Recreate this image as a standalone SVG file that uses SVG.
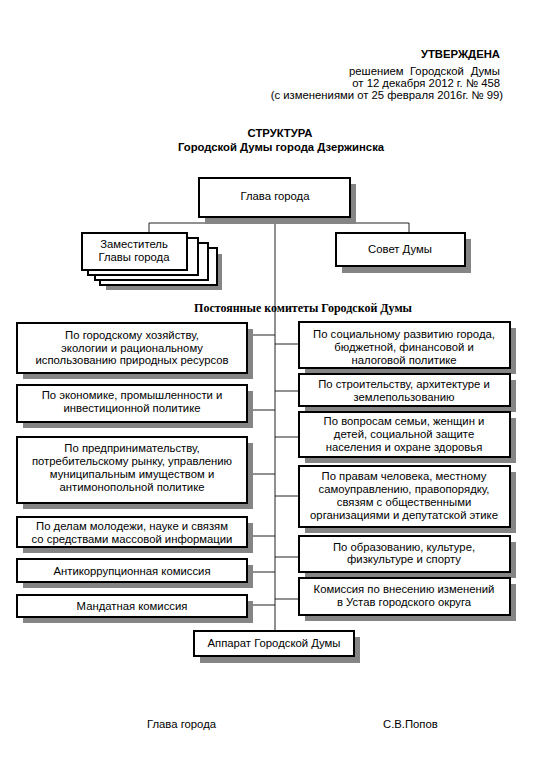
<svg xmlns="http://www.w3.org/2000/svg" width="543" height="768" viewBox="0 0 543 768">
<style>
text{font-family:"Liberation Sans",Arial,sans-serif;font-size:11.3px;fill:#000}
.c{text-anchor:middle}
.r{text-anchor:end}
.b{font-weight:bold}
.box{fill:#fff;stroke:#000;stroke-width:2}
.sh{fill:#858585}
.ln{stroke:#222;stroke-width:1;fill:none}
.ser{font-family:"Liberation Serif","Times New Roman",serif;font-size:12px;font-weight:bold}
</style>
<rect width="543" height="768" fill="#fff"/>
<g id="header">
<text x="500" y="58" class="r b">УТВЕРЖДЕНА</text>
<text x="349" y="75">решением</text>
<text x="410" y="75">Городской</text>
<text x="500" y="75" class="r">Думы</text>
<text x="500" y="87" class="r">от 12 декабря 2012 г. № 458</text>
<text x="503" y="99" class="r">(с изменениями от 25 февраля 2016г. № 99)</text>
</g>
<g id="title">
<text x="280" y="137" class="c b">СТРУКТУРА</text>
<text x="281" y="151" class="c b">Городской Думы города Дзержинска</text>
</g>
<g id="connectors">
<line class="ln" x1="275" y1="217" x2="275" y2="631"/>
<polyline class="ln" points="149,233 149,223 409,223 409,233"/>
<line class="ln" x1="247" y1="335" x2="275" y2="335"/>
<line class="ln" x1="247" y1="410" x2="275" y2="410"/>
<line class="ln" x1="247" y1="474" x2="275" y2="474"/>
<line class="ln" x1="247" y1="536" x2="275" y2="536"/>
<line class="ln" x1="247" y1="572" x2="275" y2="572"/>
<line class="ln" x1="247" y1="605" x2="275" y2="605"/>
<line class="ln" x1="275" y1="344" x2="299" y2="344"/>
<line class="ln" x1="275" y1="391" x2="299" y2="391"/>
<line class="ln" x1="275" y1="437" x2="299" y2="437"/>
<line class="ln" x1="275" y1="496" x2="299" y2="496"/>
<line class="ln" x1="275" y1="557" x2="299" y2="557"/>
<line class="ln" x1="275" y1="599" x2="299" y2="599"/>
</g>
<g id="glava">
<rect class="sh" x="205" y="184" width="151" height="40"/>
<rect class="box" x="199" y="178" width="151" height="39"/>
<text x="275" y="200" class="c">Глава города</text>
</g>
<g id="zam">
<rect class="sh" x="106" y="254" width="116" height="36"/>
<rect class="box" x="100" y="248" width="117" height="37"/>
<rect class="box" x="95" y="243" width="113" height="37"/>
<rect class="box" x="88" y="238" width="110" height="37"/>
<rect class="box" x="82" y="233" width="105" height="37"/>
<text x="134" y="248" class="c">Заместитель</text>
<text x="134" y="261" class="c">Главы города</text>
</g>
<g id="sovet">
<rect class="sh" x="342" y="239" width="129" height="34"/>
<rect class="box" x="336" y="233" width="129" height="33"/>
<text x="400" y="253" class="c">Совет Думы</text>
</g>
<text x="303" y="312" class="c ser">Постоянные комитеты Городской  Думы</text>
<g id="l1">
<rect class="sh" x="23" y="329" width="230" height="50"/>
<rect class="box" x="17" y="323" width="230" height="50"/>
<text x="132" y="339" class="c">По городскому хозяйству,</text>
<text x="132" y="351.5" class="c">экологии и рациональному</text>
<text x="132" y="364" class="c">использованию природных ресурсов</text>
</g>
<g id="l2">
<rect class="sh" x="23" y="391" width="230" height="37"/>
<rect class="box" x="17" y="385" width="230" height="37"/>
<text x="132" y="399" class="c">По экономике, промышленности и</text>
<text x="132" y="412" class="c">инвестиционной политике</text>
</g>
<g id="l3">
<rect class="sh" x="23" y="443" width="230" height="66"/>
<rect class="box" x="17" y="437" width="230" height="66"/>
<text x="132" y="452" class="c">По предпринимательству,</text>
<text x="132" y="465" class="c">потребительскому рынку, управлению</text>
<text x="132" y="478" class="c">муниципальным имуществом и</text>
<text x="132" y="491" class="c">антимонопольной политике</text>
</g>
<g id="l4">
<rect class="sh" x="23" y="523" width="230" height="30"/>
<rect class="box" x="17" y="517" width="230" height="30"/>
<text x="132" y="530" class="c">По делам молодежи, науке и связям</text>
<text x="132" y="543" class="c">со средствами массовой информации</text>
</g>
<g id="l5">
<rect class="sh" x="23" y="565" width="230" height="23"/>
<rect class="box" x="17" y="559" width="230" height="23"/>
<text x="132" y="575" class="c">Антикоррупционная комиссия</text>
</g>
<g id="l6">
<rect class="sh" x="23" y="601" width="230" height="22"/>
<rect class="box" x="17" y="595" width="230" height="22"/>
<text x="132" y="610" class="c">Мандатная комиссия</text>
</g>
<g id="r1">
<rect class="sh" x="305" y="328" width="211" height="46"/>
<rect class="box" x="299" y="322" width="211" height="46"/>
<text x="404" y="338" class="c">По социальному развитию города,</text>
<text x="404" y="351" class="c">бюджетной, финансовой и</text>
<text x="404" y="364" class="c">налоговой политике</text>
</g>
<g id="r2">
<rect class="sh" x="305" y="380" width="211" height="32"/>
<rect class="box" x="299" y="374" width="211" height="32"/>
<text x="404" y="388" class="c">По строительству, архитектуре и</text>
<text x="404" y="401" class="c">землепользованию</text>
</g>
<g id="r3">
<rect class="sh" x="305" y="418" width="211" height="45"/>
<rect class="box" x="299" y="412" width="211" height="45"/>
<text x="404" y="425" class="c">По вопросам семьи, женщин и</text>
<text x="404" y="438" class="c">детей, социальной защите</text>
<text x="404" y="451" class="c">населения и охране здоровья</text>
</g>
<g id="r4">
<rect class="sh" x="305" y="472" width="211" height="61"/>
<rect class="box" x="299" y="466" width="211" height="61"/>
<text x="404" y="480" class="c">По правам человека, местному</text>
<text x="404" y="493" class="c">самоуправлению, правопорядку,</text>
<text x="404" y="506" class="c">связям с общественными</text>
<text x="404" y="519" class="c">организациями и депутатской этике</text>
</g>
<g id="r5">
<rect class="sh" x="305" y="542" width="211" height="36"/>
<rect class="box" x="299" y="536" width="211" height="36"/>
<text x="404" y="551" class="c">По образованию, культуре,</text>
<text x="404" y="563" class="c">физкультуре и спорту</text>
</g>
<g id="r6">
<rect class="sh" x="305" y="584" width="211" height="37"/>
<rect class="box" x="299" y="578" width="211" height="37"/>
<text x="404" y="593" class="c">Комиссия по внесению изменений</text>
<text x="404" y="606" class="c">в Устав городского округа</text>
</g>
<g id="apparat">
<rect class="sh" x="200" y="637" width="160" height="26"/>
<rect class="box" x="194" y="631" width="160" height="25"/>
<text x="274" y="647" class="c">Аппарат Городской Думы</text>
</g>
<g id="footer">
<text x="147" y="728">Глава города</text>
<text x="383" y="728">С.В.Попов</text>
</g>
</svg>
